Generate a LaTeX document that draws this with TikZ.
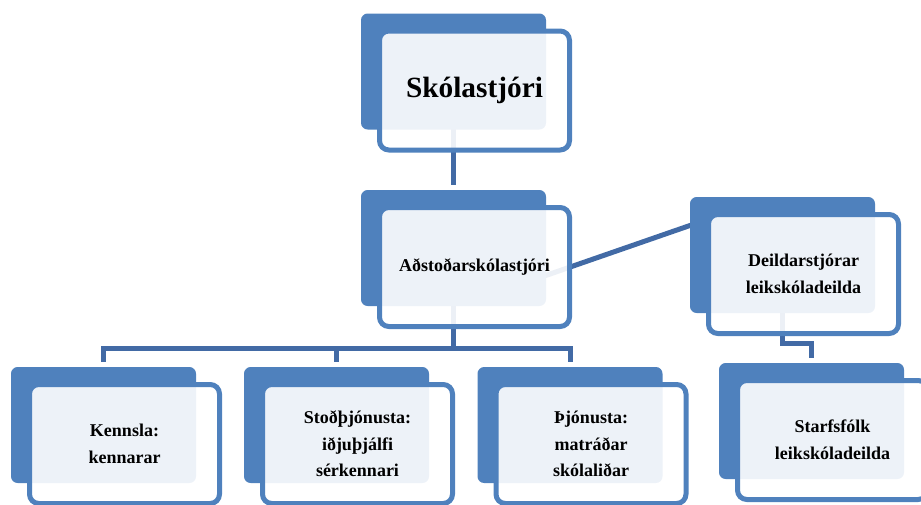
\documentclass[tikz,border=0pt]{standalone}
\usepackage{fontspec}
\setmainfont{Liberation Serif}
\usepackage{xcolor}
\definecolor{accent}{RGB}{79,129,189}
\definecolor{linkblue}{RGB}{66,106,165}
\usetikzlibrary{calc,positioning,backgrounds}

\begin{document}
\begin{tikzpicture}[
  x=0.75pt,y=-0.75pt,
  backbox/.style={rectangle,fill=accent,rounded corners=5pt,
                  minimum width=138.75pt,minimum height=87pt,inner sep=0pt},
  frontbox/.style={rectangle,draw=accent,line width=3.75pt,fill=white,
                   fill opacity=0.9,text opacity=1,rounded corners=7pt,
                   minimum width=142.5pt,minimum height=89.25pt,inner sep=0pt,
                   font=\fontsize{13.5}{20}\selectfont\bfseries,align=center},
  link/.style={draw=linkblue,line width=3.75pt,shorten >=3.75pt},
]
  \useasboundingbox (0,0) rectangle (921,504);
  \clip (0,0) rectangle (921,504);

  % head
  \node[backbox] (skb) at (453.5,71.5) {};
  \node[frontbox,font=\fontsize{22}{26}\selectfont\bfseries]
       (skf) at ([shift={(21,19)}]skb.center) {Skólastjóri};

  % assistant level
  \node[backbox] (adb) at (453.5,248) {};
  \node[frontbox] (adf) at ([shift={(21,19)}]adb.center) {Aðstoðarskólastjóri};

  \node[backbox] (deb) at (782.5,255) {};
  \node[frontbox] (def) at ([shift={(21,19)}]deb.center) {Deildarstjórar\\leikskóladeilda};

  % bottom row
  \node[backbox] (kenb) at (103.5,425) {};
  \node[frontbox] (kenf) at ([shift={(21,19)}]kenb.center) {Kennsla:\\kennarar};

  \node[backbox] (stob) at (336.5,425) {};
  \node[frontbox] (stof) at ([shift={(21,19)}]stob.center) {Stoðþjónusta:\\iðjuþjálfi\\sérkennari};

  \node[backbox] (thjb) at (570,425) {};
  \node[frontbox] (thjf) at ([shift={(21,19)}]thjb.center) {Þjónusta:\\matráðar\\skólaliðar};

  \node[backbox] (stab) at (811.5,421) {};
  \node[frontbox] (staf) at ([shift={(21,19)}]stab.center) {Starfsfólk\\leikskóladeilda};

  % connectors
  \coordinate (bus) at (453.5,348);
  \coordinate (elbow) at (782.5,343);
  \coordinate (adsout) at (540,277.5);
  \coordinate (dein) at (700,222);
  \begin{scope}[on background layer]
    \draw[link] (skb.center) -- (adb.north);
    \draw[link,shorten >=0pt] (adb.center) -- (bus);
    \foreach \n in {kenb,stob,thjb}
      \draw[link] (bus) -| (\n.north);
    \draw[link,shorten >=0pt] (adsout) -- (dein);
    \draw[link] (deb.center) -- (elbow) -| (stab.north);
  \end{scope}
\end{tikzpicture}
\end{document}
